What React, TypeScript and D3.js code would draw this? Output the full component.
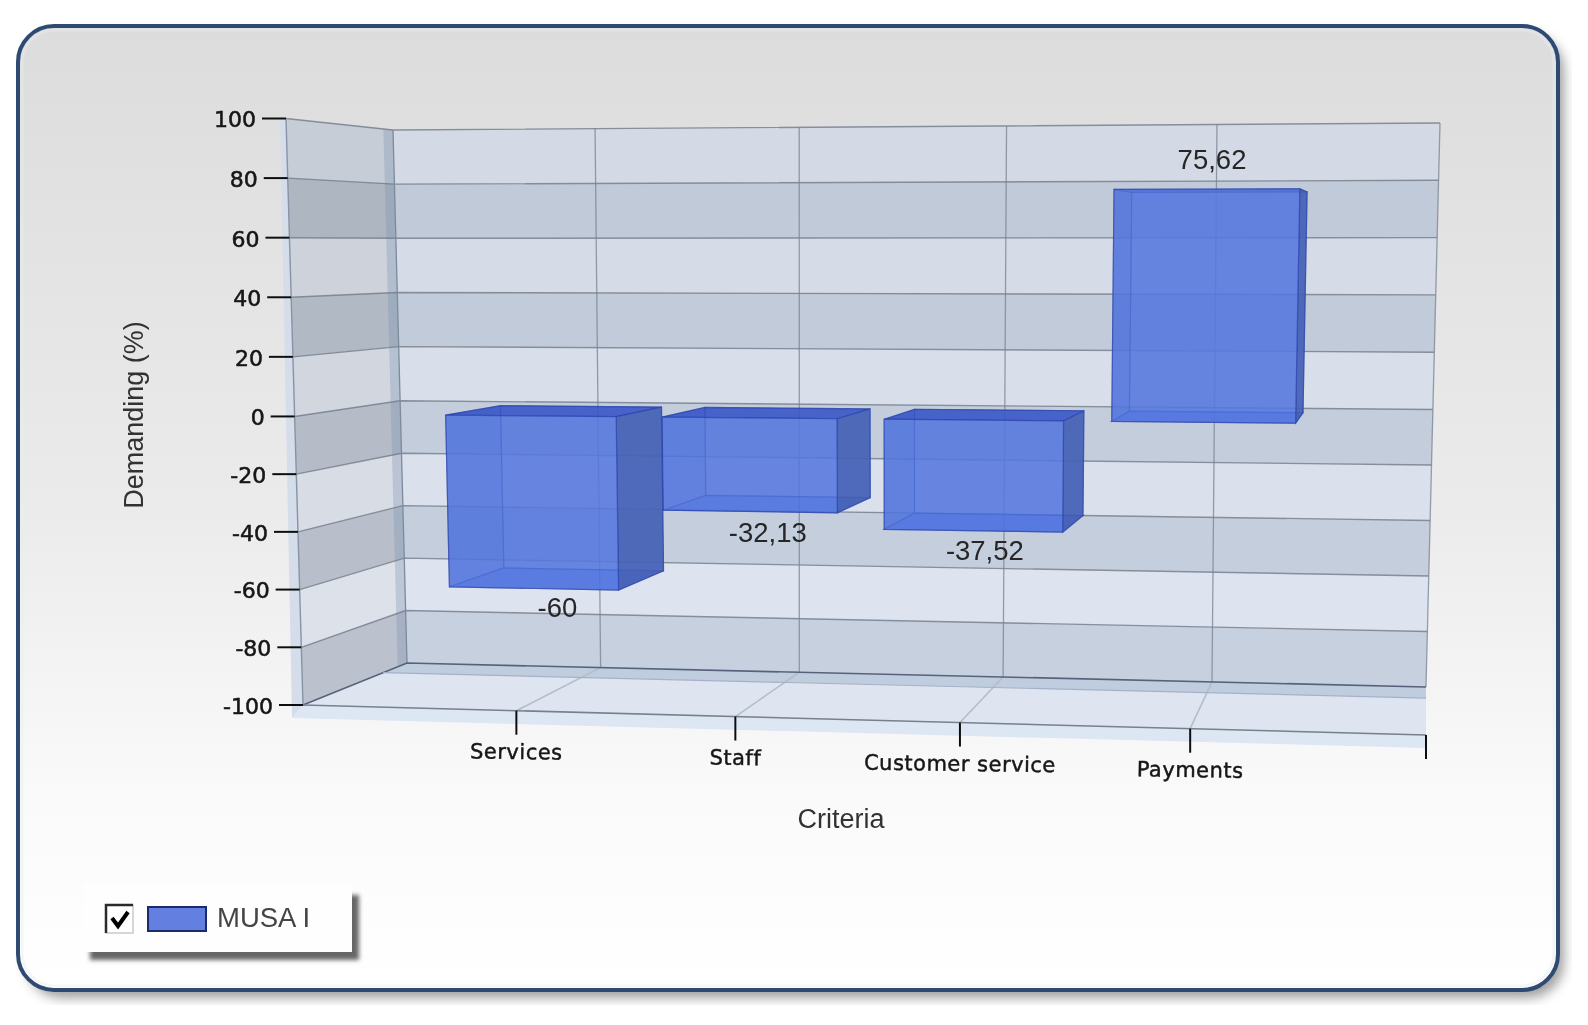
import React from "react";
import * as d3 from "d3";

const categories = ["Services", "Staff", "Customer service", "Payments"];
const seriesName = "MUSA I";
const values = [-60, -32.13, -37.52, 75.62];
const valueLabels = ["-60", "-32,13", "-37,52", "75,62"];
const yTicks = [100, 80, 60, 40, 20, 0, -20, -40, -60, -80, -100];
const xSlots = [0, 1, 2, 3, 4, 5];

type Pt = [number, number];

// Box corners of the pseudo-3D plot: [front, back] x [left, right] x [top, bottom]
const FLT: Pt = [286, 118.5], FLB: Pt = [303, 705];
const FRT: Pt = [1441, 110], FRB: Pt = [1426, 735];
const BLT: Pt = [393, 130], BLB: Pt = [407, 663];
const BRT: Pt = [1440, 123], BRB: Pt = [1426, 687];

const uScale = d3.scaleLinear().domain(xSlots).range([0, 0.19, 0.385, 0.585, 0.79, 1]);
const uTopScale = d3.scaleLinear().domain(xSlots).range([0, 0.193, 0.388, 0.586, 0.787, 1]);
const tScale = d3.scaleLinear().domain([100, 0, -100]).range([0, 0.508, 1]);

const mix = (a: Pt, b: Pt, k: number): Pt => [a[0] + (b[0] - a[0]) * k, a[1] + (b[1] - a[1]) * k];

function P(slot: number, depth: number, value: number): Pt {
  const u = uScale(slot), t = tScale(value);
  const front = mix(mix(FLT, FRT, u), mix(FLB, FRB, u), t);
  const back = mix(mix(BLT, BRT, u), mix(BLB, BRB, u), t);
  return mix(front, back, depth);
}
const poly = (pts: Pt[]) => (d3.line()(pts) as string) + "Z";

const BAR_HALF = 0.395, BAR_SHIFT = 0.02, D0 = 0.17, D1 = 0.76, BACK_STRIP = 0.91, FLOOR_LIP = 0.77;
const ink = "#161616";
const uiFont = "'DejaVu Sans', sans-serif";
const textFont = "'Liberation Sans', Arial, sans-serif";

function Bar({ i }: { i: number }) {
  const c = i + 1 + BAR_SHIFT, l = c - BAR_HALF, r = c + BAR_HALF, v = values[i];
  const hi = Math.max(v, 0), lo = Math.min(v, 0);
  const p = (x: number, d: number, y: number) => P(x, d, y);
  const edge = "rgba(40,64,170,0.55)";
  const face = (pts: Pt[], fill: string) => <path d={poly(pts)} fill={fill} stroke={edge} strokeWidth={1.2} />;
  return (
    <g>
      {face([p(l, D1, hi), p(r, D1, hi), p(r, D1, lo), p(l, D1, lo)], "rgba(80,112,225,0.55)")}
      {face([p(l, D0, hi), p(l, D1, hi), p(l, D1, lo), p(l, D0, lo)], "rgba(58,92,215,0.55)")}
      {face([p(l, D0, lo), p(r, D0, lo), p(r, D1, lo), p(l, D1, lo)], "rgba(50,90,225,0.7)")}
      {face([p(l, D0, hi), p(r, D0, hi), p(r, D1, hi), p(l, D1, hi)], "rgba(55,85,195,0.8)")}
      {face([p(r, D0, hi), p(r, D1, hi), p(r, D1, lo), p(r, D0, lo)], "rgba(70,97,178,0.86)")}
      {face([p(l, D0, hi), p(r, D0, hi), p(r, D0, lo), p(l, D0, lo)], "rgba(86,120,222,0.72)")}
    </g>
  );
}

export default function App() {
  const bands = yTicks.slice(0, -1).map((top, k) => ({ top, bottom: yTicks[k + 1], dark: k % 2 === 1, f: k / 9 }));
  const backLight = d3.interpolateRgb("rgb(211,218,229)", "rgb(223,229,240)");
  const backDark = d3.interpolateRgb("rgb(191,201,216)", "rgb(198,208,223)");
  const sideLight = d3.interpolateRgb("rgb(199,205,214)", "rgb(224,228,235)");
  const sideDark = d3.interpolateRgb("rgb(172,180,191)", "rgb(188,194,205)");
  const lip = (slot: number, dy: number, dx = 0): Pt => {
    const q = P(slot, 0, -100);
    return [q[0] + dx, q[1] + dy];
  };
  const order = d3.range(values.length).reverse();

  return (
    <svg width={1588} height={1025} viewBox="0 0 1588 1025" style={{ position: "absolute", left: 0, top: 0, display: "block" }}>
      <defs>
        <linearGradient id="panelFill" x1="0" y1="0" x2="0" y2="1">
          <stop offset="0" stopColor="#dcdcdc" />
          <stop offset="0.5" stopColor="#ebebeb" />
          <stop offset="0.8" stopColor="#fafafa" />
          <stop offset="1" stopColor="#ffffff" />
        </linearGradient>
        <filter id="soft" x="-3%" y="-3%" width="106%" height="106%">
          <feGaussianBlur stdDeviation="0.7" />
        </filter>
        <filter id="shadow" x="-5%" y="-5%" width="110%" height="110%">
          <feGaussianBlur stdDeviation="6" />
        </filter>
        <filter id="legendShadow" x="-10%" y="-20%" width="120%" height="140%">
          <feGaussianBlur stdDeviation="2.2" />
        </filter>
        <clipPath id="pageClip"><rect x={0} y={0} width={1572} height={1005} /></clipPath>
      </defs>
      <rect x={0} y={0} width={1588} height={1025} fill="#ffffff" />
      <g clipPath="url(#pageClip)">
        <rect x={26} y={34} width={1538} height={964} rx={36} fill="#777777" opacity={0.7} filter="url(#shadow)" />
      </g>
      <g filter="url(#soft)">
        <rect x={18} y={26} width={1540} height={964} rx={36} fill="url(#panelFill)" stroke="#2f4a72" strokeWidth={4} />
        <rect x={22} y={30} width={1532} height={956} rx={33} fill="none" stroke="#e6ecee" strokeWidth={3} opacity={0.45} />

        {/* outer strip of the side wall */}
        <path d={poly([[280, 118.5], FLT, FLB, [292, 718]])} fill="rgb(212,221,233)" />
        {/* floor */}
        <path d={poly([P(0, 0, -100), P(5, 0, -100), P(5, FLOOR_LIP, -100), P(0, FLOOR_LIP, -100)])} fill="rgb(222,229,240)" />
        <path d={poly([P(0, FLOOR_LIP, -100), P(5, FLOOR_LIP, -100), P(5, 1, -100), P(0, 1, -100)])} fill="rgb(191,205,223)" />
        <path d={poly([lip(0, 0), lip(5, 0), lip(5, 13), lip(0, 13, -11)])} fill="rgb(221,230,243)" />
        {/* back wall and side wall bands */}
        {bands.map(b => (
          <g key={b.top}>
            <path d={poly([P(0, 1, b.top), P(5, 1, b.top), P(5, 1, b.bottom), P(0, 1, b.bottom)])} fill={(b.dark ? backDark : backLight)(b.f)} />
            <path d={poly([P(0, 0, b.top), P(0, 1, b.top), P(0, 1, b.bottom), P(0, 0, b.bottom)])} fill={(b.dark ? sideDark : sideLight)(b.f)} />
          </g>
        ))}
        <path d={poly([P(0, BACK_STRIP, 100), P(0, 1, 100), P(0, 1, -100), P(0, BACK_STRIP, -100)])} fill="rgba(115,142,175,0.3)" />
        {/* wall gridlines */}
        {yTicks.map(v => (
          <path key={v} d={d3.line()([P(0, 0, v), P(0, 1, v), P(5, 1, v)]) as string} fill="none"
            stroke="rgb(112,122,137)" strokeOpacity={0.8} strokeWidth={v === -100 ? 0 : 1.4} />
        ))}
        {xSlots.slice(1).map(s => (
          <path key={s} d={d3.line()([mix(BLT, BRT, uTopScale(s)), P(s, 1, -100)]) as string} stroke="rgb(120,130,145)" strokeOpacity={0.75} strokeWidth={1.3} fill="none" />
        ))}
        {xSlots.slice(1, -1).map(s => (
          <path key={s} d={d3.line()([P(s, 0, -100), P(s, 1, -100)]) as string} stroke="rgb(180,189,202)" strokeWidth={1.6} fill="none" />
        ))}
        <path d={d3.line()([P(0, 0, 100), P(0, 0, -100)]) as string} stroke="rgb(135,148,165)" strokeWidth={1.4} fill="none" />
        <path d={d3.line()([P(0, 1, 100), P(0, 1, -100)]) as string} stroke="rgb(125,138,155)" strokeWidth={1.3} fill="none" />
        <path d={d3.line()([P(0, 0, -100), P(0, 1, -100), P(5, 1, -100)]) as string} stroke="rgb(85,100,122)" strokeWidth={1.7} fill="none" />
        <path d={d3.line()([P(0, FLOOR_LIP, -100), P(5, FLOOR_LIP, -100)]) as string} stroke="rgb(165,178,197)" strokeWidth={1.2} fill="none" />
        <path d={d3.line()([P(0, 0, -100), P(5, 0, -100)]) as string} stroke="rgb(118,128,142)" strokeWidth={1.6} fill="none" />

        {/* bars */}
        {order.map(i => <Bar key={i} i={i} />)}
        {values.map((v, i) => {
          const q = P(i + 1 + BAR_SHIFT, 0.46, v);
          return (
            <text key={i} x={q[0]} y={q[1] + (v < 0 ? 28 : -31)} dy="0.35em" textAnchor="middle"
              fontFamily={textFont} fontSize={27.5} fill="#262626">{valueLabels[i]}</text>
          );
        })}

        {/* value axis */}
        {yTicks.map(v => {
          const q = P(0, 0, v);
          return (
            <g key={v}>
              <line x1={q[0] - 24} x2={q[0]} y1={q[1]} y2={q[1]} stroke="#111" strokeWidth={2} />
              <text x={q[0] - 30} y={q[1] + 1} dy="0.36em" textAnchor="end" fontFamily={uiFont} fontSize={22}
                fill={ink} stroke={ink} strokeWidth={0.55}>{v}</text>
            </g>
          );
        })}
        {/* category axis */}
        {xSlots.slice(1).map(s => {
          const q = P(s, 0, -100);
          return <line key={s} x1={q[0]} x2={q[0]} y1={q[1]} y2={q[1] + 24} stroke="#111" strokeWidth={2} />;
        })}
        {categories.map((c, i) => {
          const q = P(i + 1, 0, -100);
          return (
            <text key={c} transform={`translate(${q[0]},${q[1] + 41}) rotate(0.8)`} dy="0.35em" textAnchor="middle"
              fontFamily={uiFont} fontSize={21} letterSpacing={0.5} fill={ink} stroke={ink} strokeWidth={0.45}>{c}</text>
          );
        })}

        {/* axis titles */}
        <text x={841} y={819} dy="0.35em" textAnchor="middle" fontFamily={textFont} fontSize={27} fill="#333">Criteria</text>
        <text transform="translate(134,415) rotate(-90)" dy="0.35em" textAnchor="middle" fontFamily={textFont} fontSize={27} fill="#333">Demanding (%)</text>

        {/* legend */}
        <rect x={90} y={895} width={269} height={65} fill="#666" filter="url(#legendShadow)" />
        <rect x={83} y={885} width={269} height={67} fill="#fefefe" />
        <rect x={106} y={905} width={27} height={28} fill="#fff" stroke="#c9c9c9" strokeWidth={1.5} />
        <path d="M106,933 V905 H133" fill="none" stroke="#2a2a2a" strokeWidth={2.5} />
        <path d="M112,918 L118,926 L128,912" fill="none" stroke="#000" strokeWidth={4} />
        <rect x={148} y={907} width={58} height={24} fill="#6480e0" stroke="#1a2c6c" strokeWidth={2} />
        <text x={217} y={927} fontFamily={textFont} fontSize={27.5} fill="#444">{seriesName}</text>
      </g>
    </svg>
  );
}
